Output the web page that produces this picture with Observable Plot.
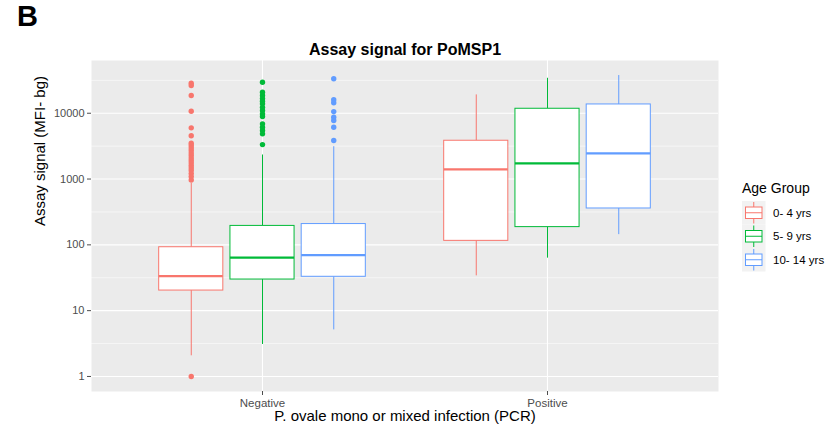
<!DOCTYPE html>
<html>
<head>
<meta charset="utf-8">
<script src="https://cdn.jsdelivr.net/npm/d3@7"></script>
<script src="https://cdn.jsdelivr.net/npm/@observablehq/plot@0.6"></script>
<style>
  html, body { margin: 0; padding: 0; background: #fff; }
  #chart { position: relative; width: 834px; height: 433px; }
  #chart svg { font-family: "Liberation Sans", Arial, sans-serif; }
</style>
</head>
<body>
<div id="chart"></div>
<script>
// PCR result groups and age groups
const groups = ["Negative", "Positive"];
const ageGroups = ["0- 4 yrs", "5- 9 yrs", "10- 14 yrs"];
const ageColors = ["#F8766D", "#00BA38", "#619CFF"];

// Box summaries, ordered Negative (3 age groups) then Positive (3 age groups)
const whiskerLow  = [2.06, 3.06, 5.1, 33.8, 62.8, 143];
const q1          = [20.2, 29.7, 32.7, 115, 186, 357];
const median      = [33.4, 64, 70, 1400, 1730, 2450];
const q3          = [92, 194, 207, 3820, 11700, 13600];
const whiskerHigh = [858, 2320, 3100, 19000, 34000, 37400];

// Outliers (only the PCR-negative boxes have any)
const outliersNeg0to4 = [1.0, 28600, 26400, 18600, 10700, 6000, 4540, 3500, 3230, 2960, 2710,
  2480, 2280, 2080, 1910, 1750, 1600, 1470, 1350, 1210, 1090, 966];
const outliersNeg5to9 = [29600, 20800, 18600, 16700, 15200, 13900, 12300, 11000, 9790, 8910,
  6900, 6120, 5460, 4860, 3340];
const outliersNeg10to14 = [33400, 16000, 14400, 10600, 8690, 7740, 6120, 3850];
const outlierSets = [outliersNeg0to4, outliersNeg5to9, outliersNeg10to14, [], [], []];

// Axis breaks
const yBreaks = [1, 10, 100, 1000, 10000];
const yMinorBreaks = yBreaks.map(d => d * Math.sqrt(10));

const title = "Assay signal for PoMSP1";
const xTitle = "P. ovale mono or mixed infection (PCR)";
const yTitle = "Assay signal (MFI- bg)";
const legendTitle = "Age Group";
const panelTag = "B";

// Dodge layout as in ggplot: each group spans 0.75 units, each box fills 90% of its slot
const dodgeWidth = 0.75;
const slot = dodgeWidth / ageGroups.length;
const boxHalf = slot * 0.9 / 2;

const boxes = groups.flatMap((g, gi) => ageGroups.map((a, ai) => {
  const k = gi * ageGroups.length + ai;
  const center = gi + 1 + (ai - (ageGroups.length - 1) / 2) * slot;
  return {
    group: g, age: a, center,
    left: center - boxHalf, right: center + boxHalf,
    lo: whiskerLow[k], q1: q1[k], med: median[k], q3: q3[k], hi: whiskerHigh[k]
  };
}));
const outlierRows = boxes.flatMap((b, k) => outlierSets[k].map(v => ({age: b.age, center: b.center, value: v})));

// Log-scale limits with ggplot's 5% expansion in log space
const allValues = [...whiskerLow, ...whiskerHigh, ...outlierSets.flat()];
const lmin = Math.log10(d3.min(allValues)), lmax = Math.log10(d3.max(allValues));
const pad = (lmax - lmin) * 0.05;
const yDomain = [10 ** (lmin - pad), 10 ** (lmax + pad)];

const W = 834, H = 433;
const mL = 91, mR = 116, mT = 60, mB = 42;

const plot = Plot.plot({
  width: W, height: H,
  marginLeft: mL, marginRight: mR, marginTop: mT, marginBottom: mB,
  style: {fontFamily: "'Liberation Sans', Arial, sans-serif", background: "white"},
  x: {type: "linear", domain: [0.4, 2.6], axis: null},
  y: {type: "log", domain: yDomain, axis: null},
  color: {domain: ageGroups, range: ageColors},
  marks: [
    Plot.frame({fill: "#EBEBEB"}),
    Plot.gridY(yMinorBreaks, {stroke: "white", strokeOpacity: 1, strokeWidth: 0.55}),
    Plot.gridY(yBreaks, {stroke: "white", strokeOpacity: 1, strokeWidth: 1.1}),
    Plot.gridX([1, 2], {stroke: "white", strokeOpacity: 1, strokeWidth: 1.1}),
    // whiskers
    Plot.ruleX(boxes, {x: "center", y1: "q3", y2: "hi", stroke: "age", strokeWidth: 1}),
    Plot.ruleX(boxes, {x: "center", y1: "lo", y2: "q1", stroke: "age", strokeWidth: 1}),
    // boxes
    Plot.rect(boxes, {x1: "left", x2: "right", y1: "q1", y2: "q3", fill: "white", stroke: "age", strokeWidth: 1}),
    // medians
    Plot.ruleY(boxes, {x1: "left", x2: "right", y: "med", stroke: "age", strokeWidth: 2.2}),
    // outliers
    Plot.dot(outlierRows, {x: "center", y: "value", fill: "age", r: 2.7, stroke: null}),
    // axes
    Plot.axisY(yBreaks, {tickSize: 4, tickPadding: 3, tickFormat: d => String(d), color: "#4D4D4D", fontSize: 11, label: null}),
    Plot.axisX([1, 2], {tickSize: 4, tickPadding: 3, tickFormat: d => groups[d - 1], color: "#4D4D4D", fontSize: 11.5, label: null}),
    // axis titles and plot title
    Plot.text([xTitle], {frameAnchor: "bottom", dy: 29, fontSize: 15, fill: "black"}),
    Plot.text([yTitle], {frameAnchor: "left", dx: -51, rotate: -90, fontSize: 15, fill: "black"}),
    Plot.text([title], {frameAnchor: "top", dy: -17, fontSize: 16, fontWeight: "bold", fill: "black"})
  ]
});

const svg = d3.select(plot);

// Panel tag
svg.append("text")
  .attr("x", 17).attr("y", 26).attr("text-anchor", "start")
  .attr("font-size", 29).attr("font-weight", "bold").attr("fill", "black")
  .text(panelTag);

// Legend
const lg = svg.append("g").attr("transform", "translate(742,0)").attr("text-anchor", "start");
lg.append("text").attr("x", 0).attr("y", 193)
  .attr("font-size", 14).attr("fill", "black").text(legendTitle);
const keyH = 23.5, keyW = 23.5, keyTop = 201;
ageGroups.forEach((a, i) => {
  const y0 = keyTop + i * keyH;
  const c = ageColors[i];
  const k = lg.append("g").attr("transform", `translate(0,${y0})`);
  k.append("rect").attr("width", keyW).attr("height", keyH).attr("fill", "#F2F2F2");
  k.append("line").attr("x1", keyW / 2).attr("x2", keyW / 2).attr("y1", 1).attr("y2", keyH - 1)
    .attr("stroke", c).attr("stroke-width", 1);
  k.append("rect").attr("x", 3.5).attr("y", 6).attr("width", keyW - 7).attr("height", keyH - 12)
    .attr("fill", "white").attr("stroke", c).attr("stroke-width", 1);
  k.append("line").attr("x1", 3.5).attr("x2", keyW - 3.5).attr("y1", keyH / 2).attr("y2", keyH / 2)
    .attr("stroke", c).attr("stroke-width", 1);
  lg.append("text").attr("x", 31).attr("y", y0 + keyH / 2).attr("dy", "0.35em")
    .attr("font-size", 11.5).attr("fill", "black").text(a);
});

document.getElementById("chart").appendChild(plot);
</script>
</body>
</html>
